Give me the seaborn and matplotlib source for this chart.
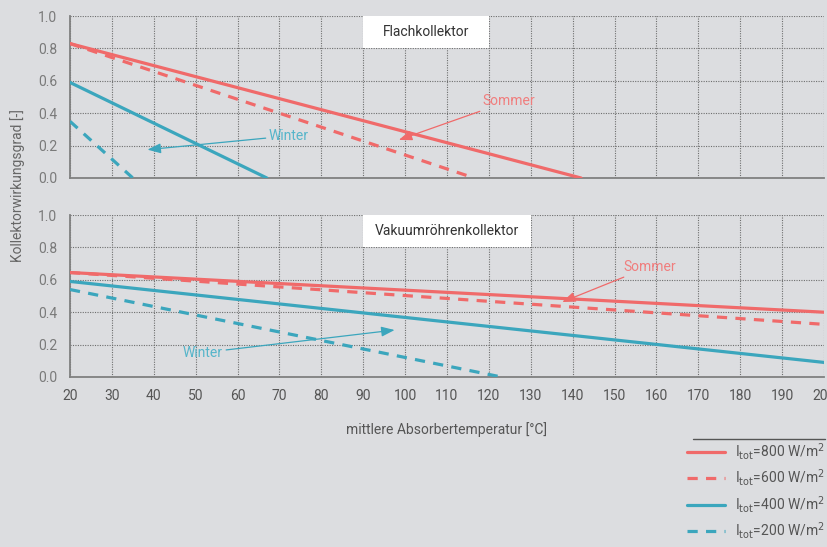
import matplotlib
matplotlib.use("Agg")
import matplotlib.pyplot as plt
from matplotlib.patches import Rectangle
from matplotlib.lines import Line2D
import seaborn as sns
import pandas as pd

# Irradiance levels and line styles
series_labels = ["800", "600", "400", "200"]

# Flat-plate collector: efficiency vs absorber temperature (linear, start/end points)
flach_x = {"800": [20, 142], "600": [20, 116.5], "400": [20, 67], "200": [20, 35]}
flach_y = {"800": [0.83, 0.0], "600": [0.83, 0.0], "400": [0.59, 0.0], "200": [0.35, 0.0]}

# Evacuated tube collector
vakuum_x = {"800": [20, 200], "600": [20, 200], "400": [20, 200], "200": [20, 123]}
vakuum_y = {"800": [0.645, 0.40], "600": [0.645, 0.325], "400": [0.59, 0.09], "200": [0.54, 0.0]}

x_ticks = list(range(20, 201, 10))
y_ticks = [0.0, 0.2, 0.4, 0.6, 0.8, 1.0]

RED = "#f06a6a"
BLUE = "#3ba6bd"
BG = "#dcdde0"
colors = {"800": RED, "600": RED, "400": BLUE, "200": BLUE}
styles = {"800": "-", "600": (0, (3.2, 2.6)), "400": "-", "200": (0, (3.2, 2.6))}

FS = 10

sns.set_theme(style="white")
plt.rcParams["font.family"] = ["Roboto", "DejaVu Sans"]

fig = plt.figure(figsize=(8.27, 5.47), dpi=100, facecolor=BG)
ax1 = fig.add_axes([0.0846, 0.6746, 0.9118, 0.2961])
ax2 = fig.add_axes([0.0846, 0.3108, 0.9118, 0.2961])


def draw_panel(ax, xs, ys, title, box_x1):
    ax.set_facecolor(BG)
    ax.add_patch(Rectangle((90, 0.8), box_x1 - 90, 0.2, facecolor="white",
                           edgecolor="none", zorder=1))
    ax.text((90 + box_x1) / 2, 0.9, title, ha="center", va="center",
            fontsize=FS, color="#333333", zorder=2)
    for s in series_labels:
        df = pd.DataFrame({"T": xs[s], "eta": ys[s]})
        sns.lineplot(data=df, x="T", y="eta", ax=ax, color=colors[s],
                     linestyle=styles[s], linewidth=2.3, zorder=3)
    ax.set_xlim(20, 200)
    ax.set_ylim(0, 1.0)
    ax.set_xticks(x_ticks)
    ax.set_yticks(y_ticks)
    ax.set_yticklabels([f"{v:.1f}" for v in y_ticks])
    ax.grid(True, linestyle=(0, (1, 1.2)), color="#6e6e6e", linewidth=0.8, zorder=0)
    ax.set_axisbelow(True)
    for side in ("top", "right"):
        ax.spines[side].set_visible(False)
    for side in ("left", "bottom"):
        ax.spines[side].set_color("#808080")
        ax.spines[side].set_linewidth(1.3)
    ax.tick_params(axis="both", length=0, labelsize=FS)
    ax.tick_params(axis="y", colors="#7a7a7a", pad=9)
    ax.tick_params(axis="x", colors="#555555", pad=9)
    ax.set_xlabel("")
    ax.set_ylabel("")


draw_panel(ax1, flach_x, flach_y, "Flachkollektor", 120)
draw_panel(ax2, vakuum_x, vakuum_y, "Vakuumröhrenkollektor", 130)
ax1.tick_params(axis="x", labelbottom=False)

arrow_red = dict(arrowstyle="-|>,head_length=0.8,head_width=0.3", color=RED,
                 lw=0.9, shrinkA=0, shrinkB=0)
arrow_blue = dict(arrowstyle="-|>,head_length=0.8,head_width=0.3", color=BLUE,
                  lw=0.9, shrinkA=0, shrinkB=0)

ax1.annotate("Sommer", xy=(98.5, 0.235), xytext=(118.5, 0.475), color="#f07e7e",
             fontsize=FS, ha="left", va="center", arrowprops=arrow_red, zorder=5)
ax1.annotate("Winter", xy=(38.5, 0.175), xytext=(67.5, 0.26), color="#55b5ca",
             fontsize=FS, ha="left", va="center", arrowprops=arrow_blue, zorder=5)
ax2.annotate("Sommer", xy=(137.5, 0.463), xytext=(152, 0.68), color="#f07e7e",
             fontsize=FS, ha="left", va="center", arrowprops=arrow_red, zorder=5)
ax2.annotate("Winter", xy=(97.5, 0.29), xytext=(56.5, 0.15), color="#55b5ca",
             fontsize=FS, ha="right", va="center", arrowprops=arrow_blue, zorder=5)

ax2.set_xlabel("mittlere Absorbertemperatur [°C]", fontsize=FS, color="#555555",
               labelpad=13)
fig.text(0.021, 0.66, "Kollektorwirkungsgrad [-]", rotation=90, ha="center",
         va="center", fontsize=FS, color="#666666")

# Legend with a rule above it
fig.add_artist(Line2D([0.838, 0.997], [0.197, 0.197], color="#555555", lw=1.0,
                      transform=fig.transFigure))
handles = [Line2D([], [], color=colors[s], linestyle=styles[s], linewidth=2.3)
           for s in series_labels]
labels = [r"I$_{\mathrm{tot}}$=" + s + r" W/m$^2$" for s in series_labels]
leg = fig.legend(handles, labels, loc="upper right", bbox_to_anchor=(1.012, 0.217),
                 frameon=False, fontsize=FS, handlelength=2.7, handletextpad=0.7,
                 labelspacing=0.4, labelcolor="#555555")

fig.savefig("out.png", dpi=100, facecolor=BG)
